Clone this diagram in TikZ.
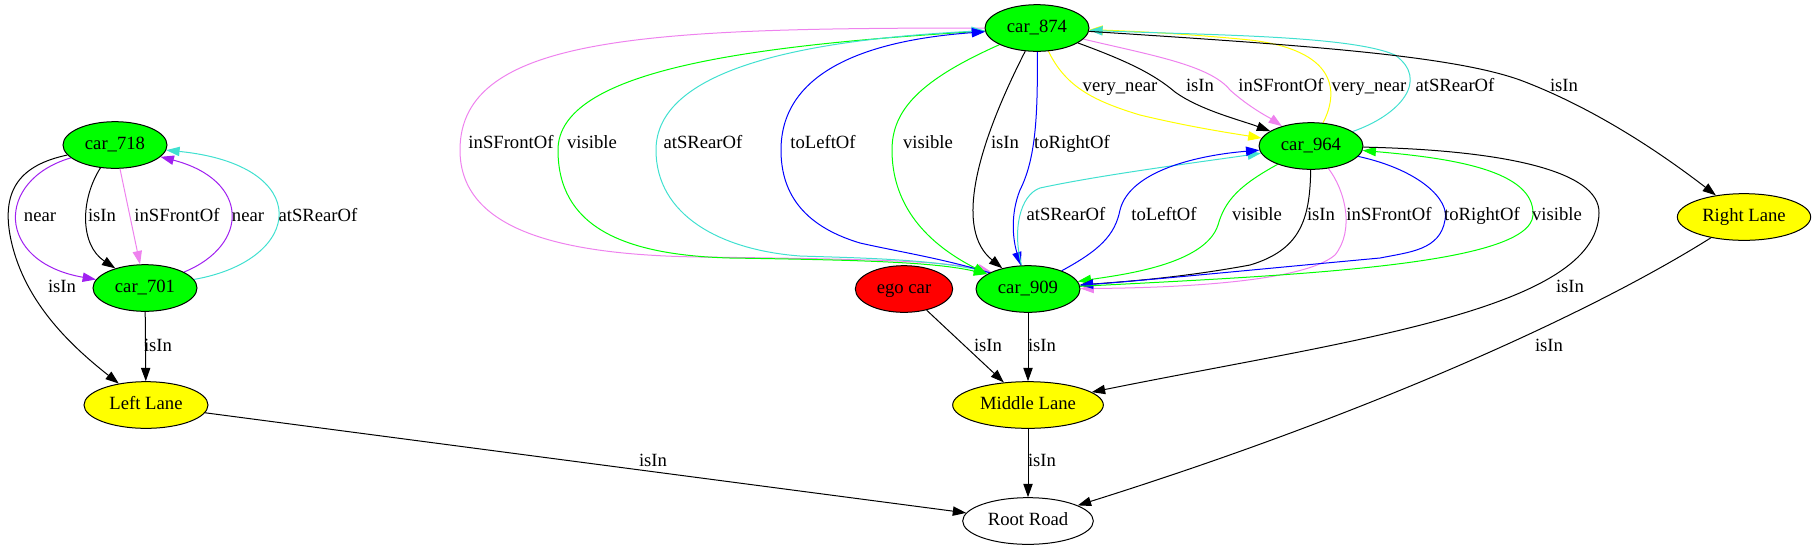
\documentclass[tikz,border=0pt]{standalone}
\usepackage{fontspec}
\setmainfont{Liberation Serif}
\usetikzlibrary{arrows.meta,shapes.geometric}
\definecolor{gvgreen}{HTML}{00FF00}
\definecolor{gvyellow}{HTML}{FFFF00}
\definecolor{gvred}{HTML}{FF0000}
\definecolor{gvpurple}{HTML}{A020F0}
\definecolor{gvviolet}{HTML}{EE82EE}
\definecolor{gvturq}{HTML}{40E0D0}
\definecolor{gvblue}{HTML}{0000FF}
\pgfdeclarelayer{edges}
\pgfsetlayers{edges,main}
\begin{document}
\begin{tikzpicture}[x=0.75pt,y=-0.75pt,
  gnode/.style={ellipse,draw=black,line width=0.75pt,inner sep=0pt,minimum height=35pt,
    text height=10pt,text depth=3pt,font=\fontsize{14}{16}\selectfont},
  car/.style={gnode,fill=gvgreen,minimum width=78pt},
  lane/.style={gnode,fill=gvyellow},
  edge/.style={line width=0.75pt,-{Triangle[length=10pt,width=7pt]}},
  lbl/.style={font=\fontsize{14}{16}\selectfont,inner sep=0pt,text height=10pt,text depth=3pt}
]
\useasboundingbox (0,0) rectangle (1816,551);

% nodes
\node[car] (car718) at (115,145) {car\_718};
\node[car] (car701) at (145,288) {car\_701};
\node[lane,minimum width=93pt] (leftlane) at (146,405) {Left Lane};
\node[car] (car874) at (1037,28) {car\_874};
\node[car] (car964) at (1311,146) {car\_964};
\node[car] (car909) at (1028,289) {car\_909};
\node[gnode,fill=gvred,minimum width=73pt] (ego) at (904,289) {ego car};
\node[lane,minimum width=113pt] (midlane) at (1028,405) {Middle Lane};
\node[gnode,fill=white,minimum width=98pt] (root) at (1028,521) {Root Road};
\node[lane,minimum width=100pt] (rightlane) at (1744,217) {Right Lane};

\begin{pgfonlayer}{edges}
% left cluster
\draw[edge,gvpurple] (car718) .. controls (-5,180) and (-5,262) .. (car701);
\draw[edge] (car718) .. controls (80,200) and (80,245) .. (car701);
\draw[edge,gvviolet] (car718) -- (car701);
\draw[edge,gvpurple] (car701) .. controls (250,245) and (250,180) .. (car718);
\draw[edge,gvturq] (car701) .. controls (305,260) and (315,165) .. (car718);
\draw[edge] (car718) .. controls (20,165) and (2,190) .. (10,235) .. controls (22,300) and (70,345) .. (leftlane);
\draw[edge] (car701) -- (leftlane);
\draw[edge] (leftlane) -- (root);

% car_874 <-> car_909
\draw[edge,gvviolet] (car874) .. controls (650,28) and (460,35) .. (460,150) .. controls (460,230) and (560,255) .. (700,257) .. controls (850,259) and (940,260) .. (car909.155);
\draw[edge,gvgreen] (car874) .. controls (750,45) and (558,70) .. (558,150) .. controls (558,225) and (620,255) .. (730,258) .. controls (860,260) and (935,262) .. (car909.160);
\draw[edge,gvturq] (car909.157) .. controls (940,259) and (860,258) .. (800,256) .. controls (720,250) and (656,215) .. (656,150) .. controls (656,70) and (800,40) .. (car874);
\draw[edge,gvblue] (car909.157) .. controls (940,258) and (900,252) .. (860,243) .. controls (800,225) and (781,190) .. (781,150) .. controls (781,70) and (870,40) .. (car874);
\draw[edge,gvgreen] (car874) .. controls (920,80) and (892,110) .. (892,150) .. controls (892,200) and (920,240) .. (car909.160);
\draw[edge] (car874) .. controls (975,150) and (955,230) .. (car909);
\draw[edge,gvblue] (car874) .. controls (1038,120) and (1035,160) .. (1020,190) .. controls (1010,215) and (1013,240) .. (car909);

% car_874 <-> car_964
\draw[edge,gvyellow] (car874) .. controls (1065,85) and (1090,100) .. (1140,115) .. controls (1190,127) and (1230,133) .. (car964);
\draw[edge] (car874) .. controls (1130,62) and (1155,75) .. (1175,92) .. controls (1200,110) and (1240,120) .. (car964);
\draw[edge,gvviolet] (car874) .. controls (1150,55) and (1210,65) .. (1230,90) .. controls (1250,108) and (1270,118) .. (car964);
\draw[edge,gvyellow] (car964) .. controls (1340,90) and (1335,50) .. (1250,40) .. controls (1190,34) and (1130,31) .. (car874);
\draw[edge,gvturq] (car964) .. controls (1400,115) and (1430,80) .. (1395,55) .. controls (1350,35) and (1200,35) .. (car874);
\draw[edge] (car874) .. controls (1300,45) and (1450,55) .. (1520,80) .. controls (1600,110) and (1670,160) .. (rightlane);

% car_964 <-> car_909
\draw[edge,gvturq] (car909) .. controls (1012,230) and (1020,195) .. (1040,188) .. controls (1100,175) and (1200,162) .. (car964);
\draw[edge,gvblue] (car909) .. controls (1100,250) and (1115,235) .. (1120,210) .. controls (1130,170) and (1200,155) .. (car964);
\draw[edge,gvgreen] (car964) .. controls (1240,185) and (1225,200) .. (1218,225) .. controls (1205,265) and (1120,275) .. (car909);
\draw[edge] (car964) .. controls (1310,220) and (1300,250) .. (1250,265) .. controls (1180,278) and (1120,282) .. (car909);
\draw[edge,gvviolet] (car964) .. controls (1345,190) and (1355,230) .. (1335,255) .. controls (1300,285) and (1150,288) .. (car909);
\draw[edge,gvblue] (car964) .. controls (1420,170) and (1450,200) .. (1445,220) .. controls (1440,250) and (1410,252) .. (1380,258) .. controls (1250,270) and (1150,280) .. (car909);
\draw[edge,gvgreen] (car909) .. controls (1300,275) and (1530,265) .. (1533,215) .. controls (1535,170) and (1450,158) .. (car964);
\draw[edge] (car964) .. controls (1500,150) and (1600,170) .. (1599,213) .. controls (1597,310) and (1350,340) .. (midlane);
\draw[edge] (rightlane) .. controls (1580,320) and (1350,420) .. (root);

% lanes
\draw[edge] (ego) -- (midlane);
\draw[edge] (car909) -- (midlane);
\draw[edge] (midlane) -- (root);
\end{pgfonlayer}

% labels
\node[lbl] (la1) at (40,217) {near};
\node[lbl] (la2) at (102,217) {isIn};
\node[lbl] (la3) at (177,217) {inSFrontOf};
\node[lbl] (la4) at (248,217) {near};
\node[lbl] (la5) at (318,217) {atSRearOf};
\node[lbl] (la6) at (62,288) {isIn};
\node[lbl] (la7) at (158,347) {isIn};
\node[lbl] (la8) at (653,462) {isIn};

\node[lbl] (lb1) at (511,144) {inSFrontOf};
\node[lbl] (lb2) at (592,144) {visible};
\node[lbl] (lb3) at (703,144) {atSRearOf};
\node[lbl] (lb4) at (823,144) {toLeftOf};
\node[lbl] (lb5) at (928,144) {visible};
\node[lbl] (lb6) at (1005,144) {isIn};
\node[lbl] (lb7) at (1072,144) {toRightOf};

\node[lbl] (lc1) at (1120,87) {very\_near};
\node[lbl] (lc2) at (1200,87) {isIn};
\node[lbl] (lc3) at (1281,87) {inSFrontOf};
\node[lbl] (lc4) at (1369,87) {very\_near};
\node[lbl] (lc5) at (1455,87) {atSRearOf};
\node[lbl] (lc6) at (1564,87) {isIn};

\node[lbl] (ld1) at (1066,216) {atSRearOf};
\node[lbl] (ld2) at (1164,216) {toLeftOf};
\node[lbl] (ld3) at (1257,216) {visible};
\node[lbl] (ld4) at (1321,216) {isIn};
\node[lbl] (ld5) at (1389,216) {inSFrontOf};
\node[lbl] (ld6) at (1482,216) {toRightOf};
\node[lbl] (ld7) at (1557,216) {visible};
\node[lbl] (ld8) at (1570,288) {isIn};
\node[lbl] (ld9) at (1549,347) {isIn};

\node[lbl] (le1) at (988,347) {isIn};
\node[lbl] (le2) at (1042,347) {isIn};
\node[lbl] (le3) at (1042,462) {isIn};
\end{tikzpicture}
\end{document}
